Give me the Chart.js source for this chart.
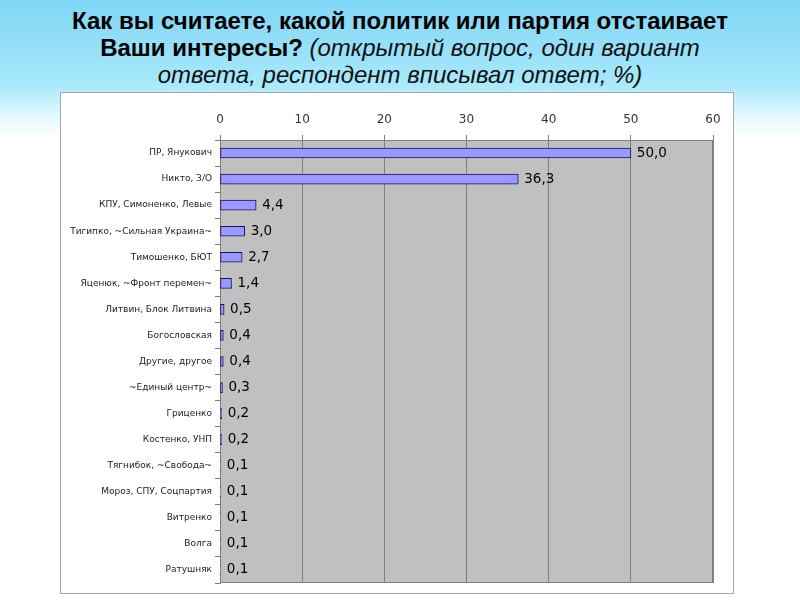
<!DOCTYPE html>
<html>
<head>
<meta charset="utf-8">
<script src="https://cdn.jsdelivr.net/npm/chart.js@4"></script>
<style>
  html, body { margin: 0; padding: 0; }
  body {
    width: 800px; height: 600px; overflow: hidden; position: relative;
    background: linear-gradient(to bottom, #7fd5f5 0px, #a9e9fb 85px, #e6f9ff 118px, #ffffff 138px);
    font-family: "Liberation Sans", Arial, sans-serif;
  }
  #title {
    position: absolute; left: 0; top: 7px; width: 800px;
    text-align: center; font-size: 24px; line-height: 27px; color: #000;
  }
  #title b { font-weight: bold; }
  #title i { font-weight: normal; color: #111; }
  #box {
    position: absolute; left: 60px; top: 92px; width: 672px; height: 500px;
    background: #fff; border: 1px solid #a8a8a8;
  }
</style>
</head>
<body>
<div id="title"><b>Как вы считаете, какой политик или партия отстаивает<br>Ваши интересы?</b> <i>(открытый вопрос, один вариант<br>ответа, респондент вписывал ответ; %)</i></div>
<div id="box"><canvas id="chart" width="672" height="500"></canvas></div>
<script>
const categories = [
    'ПР, Янукович',
    'Никто, З/О',
    'КПУ, Симоненко, Левые',
    'Тигипко, ~Сильная Украина~',
    'Тимошенко, БЮТ',
    'Яценюк, ~Фронт перемен~',
    'Литвин, Блок Литвина',
    'Богословская',
    'Другие, другое',
    '~Единый центр~',
    'Гриценко',
    'Костенко, УНП',
    'Тягнибок, ~Свобода~',
    'Мороз, СПУ, Соцпартия',
    'Витренко',
    'Волга',
    'Ратушняк'
];
const values = [50.0, 36.3, 4.4, 3.0, 2.7, 1.4, 0.5, 0.4, 0.4, 0.3, 0.2, 0.2, 0.1, 0.1, 0.1, 0.1, 0.1];
const xTicks = [0, 10, 20, 30, 40, 50, 60];

// grey plot area behind the bars
const plotBg = {
    id: 'plotBg',
    beforeDraw(chart) {
        const a = chart.chartArea;
        const ctx = chart.ctx;
        ctx.save();
        ctx.fillStyle = '#c0c0c0';
        ctx.fillRect(a.left, a.top, a.right - a.left, a.bottom - a.top);
        ctx.strokeStyle = '#808080';
        ctx.lineWidth = 1;
        ctx.strokeRect(a.left + 0.5, a.top + 0.5, a.right - a.left - 1, a.bottom - a.top - 1);
        ctx.restore();
    }
};

// value labels after each bar, with decimal comma
const valueLabels = {
    id: 'valueLabels',
    afterDatasetsDraw(chart) {
        const ctx = chart.ctx;
        const meta = chart.getDatasetMeta(0);
        ctx.save();
        ctx.font = '13.5px "DejaVu Sans"';
        ctx.fillStyle = '#000';
        ctx.textBaseline = 'middle';
        ctx.textAlign = 'left';
        meta.data.forEach((bar, i) => {
            ctx.fillText(values[i].toFixed(1).replace('.', ','), bar.x + 6, bar.y);
        });
        ctx.restore();
    }
};

new Chart(document.getElementById('chart'), {
    type: 'bar',
    data: {
        labels: categories,
        datasets: [{
            data: values,
            backgroundColor: '#9999ff',
            borderColor: '#14145a',
            borderWidth: 1,
            borderSkipped: false,
            barThickness: 10
        }]
    },
    options: {
        indexAxis: 'y',
        responsive: false,
        animation: false,
        layout: { padding: { left: 0, right: 20, top: 0, bottom: 10 } },
        plugins: {
            legend: { display: false },
            tooltip: { enabled: false }
        },
        scales: {
            x: {
                position: 'top',
                min: 0,
                max: 60,
                afterBuildTicks(scale) {
                    scale.ticks = xTicks.map(v => ({ value: v }));
                },
                afterFit(scale) { scale.height = 47; },
                ticks: {
                    color: '#333',
                    font: { family: 'DejaVu Sans', size: 12 },
                    padding: 8
                },
                grid: {
                    color: '#808080',
                    tickLength: 5,
                    lineWidth: 1
                },
                border: { color: '#808080' }
            },
            y: {
                afterFit(scale) { scale.width = 159; },
                ticks: {
                    color: '#222',
                    font: { family: 'DejaVu Sans', size: 9 },
                    padding: 3,
                    autoSkip: false
                },
                grid: {
                    drawOnChartArea: false,
                    offset: true,
                    color: '#808080',
                    tickLength: 5
                },
                border: { color: '#808080' }
            }
        }
    },
    plugins: [plotBg, valueLabels]
});
</script>
</body>
</html>
